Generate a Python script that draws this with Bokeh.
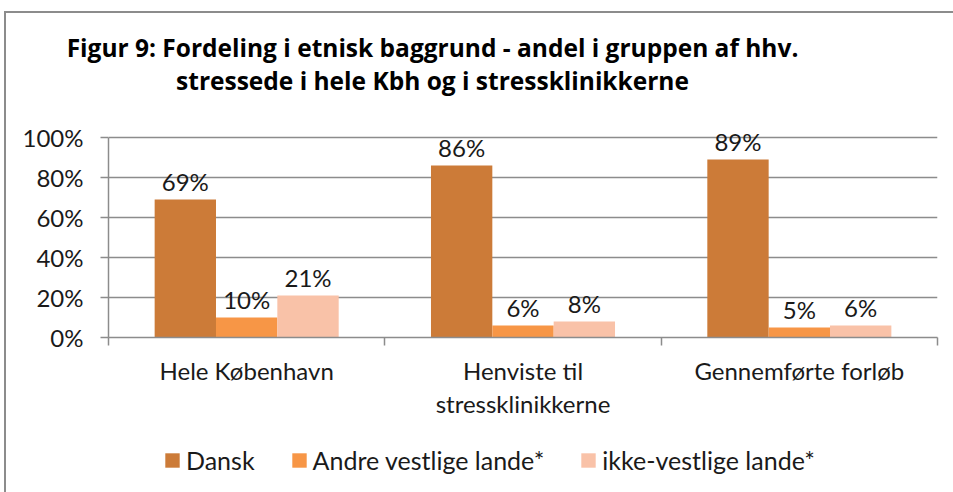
from bokeh.plotting import figure
from bokeh.layouts import column
from bokeh.models import (ColumnDataSource, Range1d, FixedTicker, PrintfTickFormatter,
                          LabelSet, Label, Legend, LegendItem)
from bokeh.core.properties import value
from bokeh.transform import dodge
from bokeh.embed import file_html
from bokeh.resources import INLINE

categories = ["Hele København", "Henviste til\nstressklinikkerne", "Gennemførte forløb"]
series_names = ["Dansk", "Andre vestlige lande*", "ikke-vestlige lande*"]
dansk = [69, 86, 89]
andre = [10, 6, 5]
ikke = [21, 8, 6]
y_ticks = [0, 20, 40, 60, 80, 100]
title_lines = ["Figur 9: Fordeling i etnisk baggrund - andel i gruppen af hhv.",
               "stressede i hele Kbh og i stressklinikkerne"]

colors = ["#CC7B38", "#F79646", "#F9C2A8"]
FONT = "Lato"
TFONT = "Open Sans"
FS = "24px"
GRID = "#8c8c8c"
TXT = "#1a1a1a"
W = 947
BL, BR = 102, 16          # left / right borders of the chart and legend strips

# ---------------- title strip ----------------
TH = 97
pt = figure(width=W, height=TH, output_backend="svg", toolbar_location=None,
            x_range=Range1d(0, W), y_range=Range1d(0, TH),
            x_axis_type=None, y_axis_type=None, min_border=0)
pt.frame_align = False
pt.outline_line_color = None
pt.grid.visible = False
for line, cy in zip(title_lines, [34, 67]):
    pt.add_layout(Label(x=426, y=TH - cy, text=line, text_align="center",
                        text_baseline="middle", text_font=TFONT,
                        text_font_style="bold", text_font_size="24.5px",
                        text_color="#000000"))

# ---------------- main chart ----------------
xpos = [i + 0.5 for i in range(len(categories))]
src = ColumnDataSource(dict(
    x=xpos, dansk=dansk, andre=andre, ikke=ikke,
    dansk_t=[f"{v}%" for v in dansk],
    andre_t=[f"{v}%" for v in andre],
    ikke_t=[f"{v}%" for v in ikke],
))

p = figure(width=W, height=320, output_backend="svg", toolbar_location=None,
           x_range=Range1d(0, len(categories)), y_range=Range1d(0, 107),
           min_border_left=BL, min_border_right=BR, min_border_top=13,
           min_border_bottom=93)
p.outline_line_color = None
p.background_fill_color = "white"
p.border_fill_color = "white"

p.xgrid.grid_line_color = None
p.ygrid.grid_line_color = GRID
p.ygrid.grid_line_width = 1.5
p.ygrid.ticker = FixedTicker(ticks=y_ticks)

p.yaxis.ticker = FixedTicker(ticks=y_ticks)
p.yaxis.bounds = (0, 100)
p.yaxis.formatter = PrintfTickFormatter(format="%d%%")
p.yaxis.axis_line_color = GRID
p.yaxis.axis_line_width = 1.5
p.yaxis.major_tick_line_color = GRID
p.yaxis.major_tick_line_width = 1.5
p.yaxis.major_tick_out = 8
p.yaxis.major_tick_in = 0
p.yaxis.minor_tick_line_color = None
p.yaxis.major_label_standoff = 17
p.yaxis.major_label_text_font = FONT
p.yaxis.major_label_text_font_size = FS
p.yaxis.major_label_text_color = TXT

p.xaxis.ticker = FixedTicker(ticks=xpos, minor_ticks=list(range(len(categories) + 1)))
p.xaxis.major_label_overrides = {x: c for x, c in zip(xpos, categories)}
p.xaxis.axis_line_color = GRID
p.xaxis.axis_line_width = 1.5
p.xaxis.major_tick_line_color = None
p.xaxis.major_tick_out = 0
p.xaxis.major_tick_in = 0
p.xaxis.minor_tick_line_color = GRID
p.xaxis.minor_tick_line_width = 1.5
p.xaxis.minor_tick_out = 8
p.xaxis.minor_tick_in = 0
p.xaxis.major_label_standoff = 10
p.xaxis.major_label_text_font = FONT
p.xaxis.major_label_text_font_size = FS
p.xaxis.major_label_text_color = TXT
p.xaxis.major_label_text_line_height = 1.15

bw = 0.222
offs = [-bw, 0.0, bw]
fields = ["dansk", "andre", "ikke"]
for f, off, col in zip(fields, offs, colors):
    p.vbar(x=dodge("x", off), top=f, width=bw, bottom=0, source=src,
           fill_color=col, line_color=None)
    p.add_layout(LabelSet(x=dodge("x", off), y=f, text=f + "_t", source=src,
                          text_align="center", text_baseline="alphabetic", y_offset=9,
                          text_font=value(FONT), text_font_size=value(FS),
                          text_color=TXT))

# ---------------- legend strip ----------------
LH = 62
pl = figure(width=W, height=LH, output_backend="svg", toolbar_location=None,
            x_range=Range1d(0, len(categories)), y_range=Range1d(0, 100),
            x_axis_type=None, y_axis_type=None,
            min_border_left=BL, min_border_right=BR, min_border_top=0, min_border_bottom=0)
pl.outline_line_color = None
pl.grid.visible = False
leg_renderers = [pl.vbar(x="x", top=f, width=bw, source=src, fill_color=c,
                         line_color=None, visible=False)
                 for f, c in zip(fields, colors)]
legend = Legend(items=[LegendItem(label=n, renderers=[r])
                       for n, r in zip(series_names, leg_renderers)],
                orientation="horizontal", location=(55, 17), padding=0, margin=0,
                spacing=35, label_standoff=5, glyph_width=18, glyph_height=18,
                label_text_font=FONT, label_text_font_size="25px",
                label_text_color=TXT, inactive_fill_alpha=0,
                border_line_color=None, background_fill_alpha=0)
pl.add_layout(legend, "center")

layout = column(pt, p, pl, spacing=0,
                styles={"margin-left": "4px", "margin-top": "11px",
                        "border-left": "2px solid #8c8c8c",
                        "border-top": "2px solid #8c8c8c"})

open("out.html", "w").write(file_html(layout, INLINE))
